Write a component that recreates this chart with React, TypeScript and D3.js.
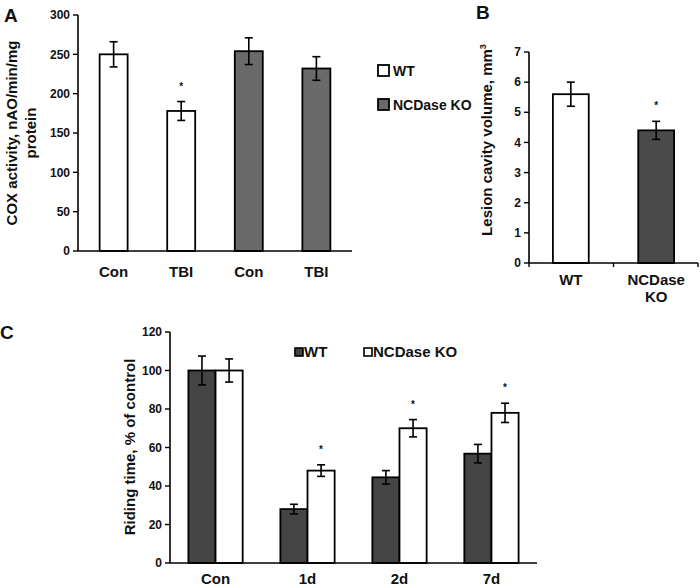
import React from "react";
import * as d3 from "d3";

// Panel A
const aCategories = ["Con", "TBI", "Con", "TBI"];
const aGroups = ["WT", "WT", "NCDase KO", "NCDase KO"];
const aValues = [250, 178, 254, 232];
const aErrors = [16, 12, 17, 15];
const aStars = [false, true, false, false];
const aTicks = [0, 50, 100, 150, 200, 250, 300];

// Panel B
const bCategories = ["WT", "NCDase KO"];
const bValues = [5.6, 4.4];
const bErrors = [0.4, 0.3];
const bStars = [false, true];
const bTicks = [0, 1, 2, 3, 4, 5, 6, 7];

// Panel C
const cCategories = ["Con", "1d", "2d", "7d"];
const cSeries = ["WT", "NCDase KO"];
const cWT = [100, 28, 44.5, 56.8];
const cWTErr = [7.5, 2.5, 3.5, 4.8];
const cKO = [100, 48, 70, 78];
const cKOErr = [6, 3, 4.5, 5];
const cStars = [false, true, true, true];
const cTicks = [0, 20, 40, 60, 80, 100, 120];

const FONT = "'Liberation Sans', Arial, sans-serif";
const GREY_A = "#6a6a6a";
const GREY_B = "#4a4a4a";
const GREY_C = "#444444";

function ErrorBar({ x, y1, y2, cap = 4 }: { x: number; y1: number; y2: number; cap?: number }) {
  return (
    <g stroke="#000" strokeWidth={1.6}>
      <line x1={x} x2={x} y1={y1} y2={y2} />
      <line x1={x - cap} x2={x + cap} y1={y1} y2={y1} />
      <line x1={x - cap} x2={x + cap} y1={y2} y2={y2} />
    </g>
  );
}

function YAxis({ x, scale, ticks, fmt }: { x: number; scale: d3.ScaleLinear<number, number>; ticks: number[]; fmt?: (v: number) => string }) {
  const [lo, hi] = scale.domain();
  return (
    <g>
      <line x1={x} x2={x} y1={scale(lo)} y2={scale(hi)} stroke="#000" strokeWidth={1.6} />
      {ticks.map((t) => (
        <g key={t}>
          <line x1={x - 5} x2={x} y1={scale(t)} y2={scale(t)} stroke="#000" strokeWidth={1.4} />
          <text x={x - 8} y={scale(t)} dy="0.35em" textAnchor="end" fontSize={12} fontWeight="bold" fontFamily={FONT} fill="#111">
            {fmt ? fmt(t) : String(t)}
          </text>
        </g>
      ))}
    </g>
  );
}

export default function App() {
  // Panel A scales
  const xA = d3.scaleBand<number>().domain(d3.range(aCategories.length)).range([78, 352]).paddingInner(0.586).paddingOuter(0.32);
  const yA = d3.scaleLinear().domain([0, 300]).range([251, 15]);

  // Panel B scales
  const xB = d3.scaleBand<number>().domain(d3.range(bCategories.length)).range([529, 698]).paddingInner(0.58).paddingOuter(0.28);
  const yB = d3.scaleLinear().domain([0, 7]).range([263, 52]);

  // Panel C scales
  const xC = d3.scaleBand<string>().domain(cCategories).range([170, 537]).paddingInner(0.41).paddingOuter(0.2);
  const xCs = d3.scaleBand<string>().domain(cSeries).range([0, xC.bandwidth()]);
  const yC = d3.scaleLinear().domain([0, 120]).range([563, 332]);

  const cData = cSeries.map((s, si) => ({
    series: s,
    values: si === 0 ? cWT : cKO,
    errs: si === 0 ? cWTErr : cKOErr,
    fill: si === 0 ? GREY_C : "#fff",
  }));

  const tf = { fontFamily: FONT, fontWeight: "bold" as const, fill: "#111" };

  return (
    <svg width={700} height={588} style={{ position: "absolute", left: 0, top: 0, background: "#fff" }}>
      <rect x={0} y={0} width={700} height={588} fill="#fff" />

      {/* ---------- Panel A ---------- */}
      <text x={4} y={22} fontSize={19} {...tf}>A</text>
      <text transform="translate(17,133) rotate(-90)" textAnchor="middle" fontSize={15} {...tf}>COX activity, nAO/min/mg</text>
      <text transform="translate(36,133) rotate(-90)" textAnchor="middle" fontSize={15} {...tf}>protein</text>
      {aValues.map((v, i) => {
        const x = xA(i)!;
        const w = xA.bandwidth();
        return (
          <g key={i}>
            <rect x={x} y={yA(v)} width={w} height={yA(0) - yA(v)} fill={aGroups[i] === "WT" ? "#fff" : GREY_A} stroke="#000" strokeWidth={1.8} />
            <ErrorBar x={x + w / 2} y1={yA(v + aErrors[i])} y2={yA(v - aErrors[i])} />
            {aStars[i] && (
              <text x={x + w / 2} y={yA(v + aErrors[i]) - 12} textAnchor="middle" fontSize={10} {...tf}>*</text>
            )}
            <text x={x + w / 2} y={277} textAnchor="middle" fontSize={15} {...tf}>{aCategories[i]}</text>
          </g>
        );
      })}
      <YAxis x={78} scale={yA} ticks={aTicks} />
      <line x1={78} x2={352} y1={yA(0)} y2={yA(0)} stroke="#000" strokeWidth={1.6} />
      {/* legend A */}
      <rect x={378} y={65} width={11} height={11} fill="#fff" stroke="#000" strokeWidth={1.8} />
      <text x={393} y={76} fontSize={14} {...tf}>WT</text>
      <rect x={378} y={99} width={11} height={11} fill={GREY_A} stroke="#000" strokeWidth={1.8} />
      <text x={393} y={110} fontSize={14} {...tf}>NCDase KO</text>

      {/* ---------- Panel B ---------- */}
      <text x={476} y={19} fontSize={19} {...tf}>B</text>
      <text transform="translate(492,140) rotate(-90)" textAnchor="middle" fontSize={15} {...tf}>
        Lesion cavity volume, mm<tspan fontSize={9} dy={-6}>3</tspan>
      </text>
      {bValues.map((v, i) => {
        const x = xB(i)!;
        const w = xB.bandwidth();
        return (
          <g key={i}>
            <rect x={x} y={yB(v)} width={w} height={yB(0) - yB(v)} fill={i === 0 ? "#fff" : GREY_B} stroke="#000" strokeWidth={1.8} />
            <ErrorBar x={x + w / 2} y1={yB(v + bErrors[i])} y2={yB(v - bErrors[i])} />
            {bStars[i] && (
              <text x={x + w / 2} y={yB(v + bErrors[i]) - 12} textAnchor="middle" fontSize={10} {...tf}>*</text>
            )}
          </g>
        );
      })}
      <YAxis x={529} scale={yB} ticks={bTicks} />
      <line x1={529} x2={698} y1={yB(0)} y2={yB(0)} stroke="#000" strokeWidth={1.6} />
      {[0, 1, 2].map((k) => {
        const xx = 529 + (k * (698 - 529)) / 2;
        return <line key={k} x1={xx} x2={xx} y1={yB(0)} y2={yB(0) + 4} stroke="#000" strokeWidth={1.4} />;
      })}
      <text x={xB(0)! + xB.bandwidth() / 2} y={285} textAnchor="middle" fontSize={15} {...tf}>WT</text>
      <text x={xB(1)! + xB.bandwidth() / 2} y={285} textAnchor="middle" fontSize={15} {...tf}>NCDase</text>
      <text x={xB(1)! + xB.bandwidth() / 2} y={302} textAnchor="middle" fontSize={15} {...tf}>KO</text>

      {/* ---------- Panel C ---------- */}
      <text x={0} y={339} fontSize={19} {...tf}>C</text>
      <text transform="translate(135,447) rotate(-90)" textAnchor="middle" fontSize={15} {...tf}>Riding time, % of control</text>
      {cCategories.map((c, ci) => (
        <g key={c}>
          {cData.map((s) => {
            const x = xC(c)! + xCs(s.series)!;
            const w = xCs.bandwidth();
            const v = s.values[ci];
            const e = s.errs[ci];
            return (
              <g key={s.series}>
                <rect x={x} y={yC(v)} width={w} height={yC(0) - yC(v)} fill={s.fill} stroke="#000" strokeWidth={1.8} />
                <ErrorBar x={x + w / 2} y1={yC(v + e)} y2={yC(v - e)} />
                {s.series === "NCDase KO" && cStars[ci] && (
                  <text x={x + w / 2} y={yC(v + e) - 12} textAnchor="middle" fontSize={10} {...tf}>*</text>
                )}
              </g>
            );
          })}
          <text x={xC(c)! + xC.bandwidth() / 2} y={584} textAnchor="middle" fontSize={15} {...tf}>{c}</text>
        </g>
      ))}
      <YAxis x={170} scale={yC} ticks={cTicks} />
      <line x1={170} x2={537} y1={yC(0)} y2={yC(0)} stroke="#000" strokeWidth={1.6} />
      {/* legend C */}
      <rect x={295} y={348} width={8} height={8} fill={GREY_C} stroke="#000" strokeWidth={1.6} />
      <text x={304} y={357} fontSize={15} {...tf}>WT</text>
      <rect x={364} y={348} width={8} height={8} fill="#fff" stroke="#000" strokeWidth={1.6} />
      <text x={373} y={357} fontSize={15} {...tf}>NCDase KO</text>
    </svg>
  );
}
